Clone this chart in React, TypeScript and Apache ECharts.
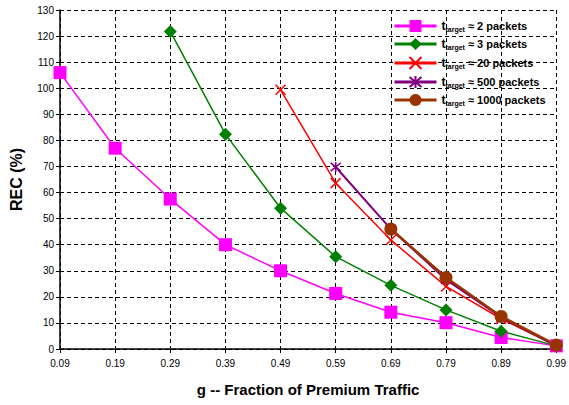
import React, { useEffect, useRef } from "react";
import * as echarts from "echarts";

const categories = ["0.09", "0.19", "0.29", "0.39", "0.49", "0.59", "0.69", "0.79", "0.89", "0.99"];
const yTicks = { min: 0, max: 130, interval: 10 };

const s2: (number | null)[] = [106, 77, 57.5, 40, 30, 21.3, 14.1, 10.1, 4.4, 1.2];
const s3: (number | null)[] = [null, null, 121.8, 82.4, 54, 35.4, 24.4, 15, 6.8, 1.2];
const s20: (number | null)[] = [null, null, null, null, 99.4, 63.6, 41.8, 24, 11.6, 1.2];
const s500: (number | null)[] = [null, null, null, null, null, 69.8, 46, 26.6, 12.2, 1.2];
const s1000: (number | null)[] = [null, null, null, null, null, null, 46, 27.4, 12.5, 1.5];

const names = ["2 packets", "3 packets", "20 packets", "500 packets", "1000 packets"];

const FONT = "Liberation Sans";

export default function App() {
  const ref = useRef<HTMLDivElement>(null);
  useEffect(() => {
    if (!ref.current) return;
    const chart = echarts.init(ref.current, null, { renderer: "svg" });
    const crossPath = "path://M0,0L10,10M10,0L0,10";
    const starPath = "path://M0,0L10,10M10,0L0,10M5,-1L5,11";
    const mk = (
      name: string,
      data: (number | null)[],
      color: string,
      symbol: string,
      symbolSize: number,
      width: number,
      stroke?: boolean
    ) => ({
      type: "line",
      name,
      data,
      symbol,
      symbolSize,
      showAllSymbol: true,
      connectNulls: false,
      lineStyle: { color, width },
      itemStyle: stroke
        ? { color: "rgba(0,0,0,0)", borderColor: color, borderWidth: 1.5 }
        : { color, borderWidth: 0 },
      emphasis: { disabled: true },
    });
    chart.setOption({
      animation: false,
      textStyle: { fontFamily: FONT },
      grid: { left: 58, right: 9, top: 10, bottom: 56 },
      legend: {
        orient: "vertical",
        left: 393,
        top: 20,
        itemWidth: 42,
        itemHeight: 15,
        itemGap: 5,
        padding: 0,
        data: names,
        lineStyle: { width: 3 },
        formatter: (n: string) => `{t|t}{s|target}{r| \u2248 ${n}}`,
        textStyle: {
          rich: {
            t: { fontSize: 12, fontWeight: "bold", color: "#000", fontFamily: FONT },
            s: { fontSize: 7, fontWeight: "bold", color: "#000", fontFamily: FONT, padding: [7, 0, 0, 0] },
            r: { fontSize: 11, fontWeight: "bold", color: "#000", fontFamily: FONT },
          },
        },
      },
      xAxis: {
        type: "category",
        data: categories,
        boundaryGap: false,
        name: "g -- Fraction of Premium Traffic",
        nameLocation: "middle",
        nameGap: 33,
        nameTextStyle: { fontSize: 15, fontWeight: "bold", color: "#000", fontFamily: FONT },
        axisLine: { lineStyle: { color: "#000", width: 1.5 } },
        axisTick: { show: true, length: 4, lineStyle: { color: "#000" } },
        axisLabel: { fontSize: 10, color: "#000", margin: 9, fontFamily: FONT },
        splitLine: { show: true, lineStyle: { color: "#000", type: [4, 3], width: 1 } },
      },
      yAxis: {
        type: "value",
        min: yTicks.min,
        max: yTicks.max,
        interval: yTicks.interval,
        name: "REC (%)",
        nameLocation: "middle",
        nameGap: 36,
        nameTextStyle: { fontSize: 16, fontWeight: "bold", color: "#000", fontFamily: FONT },
        axisLine: { show: true, lineStyle: { color: "#000", width: 1.5 } },
        axisTick: { show: true, length: 4, lineStyle: { color: "#000" } },
        axisLabel: { fontSize: 10, color: "#000", margin: 6, fontFamily: FONT },
        splitLine: { show: true, lineStyle: { color: "#000", type: [4, 3], width: 1 } },
      },
      series: [
        mk(names[0], s2, "#FF00FF", "rect", 13, 1.5),
        mk(names[1], s3, "#008000", "diamond", 13, 1.5),
        mk(names[2], s20, "#FF0000", crossPath, 10, 1.5, true),
        mk(names[3], s500, "#800080", starPath, 10, 2, true),
        mk(names[4], s1000, "#993300", "circle", 13, 2.5),
      ],
    });
    return () => chart.dispose();
  }, []);
  return <div ref={ref} style={{ width: 569, height: 405, position: "absolute", left: 0, top: 0, background: "#fff" }} />;
}
